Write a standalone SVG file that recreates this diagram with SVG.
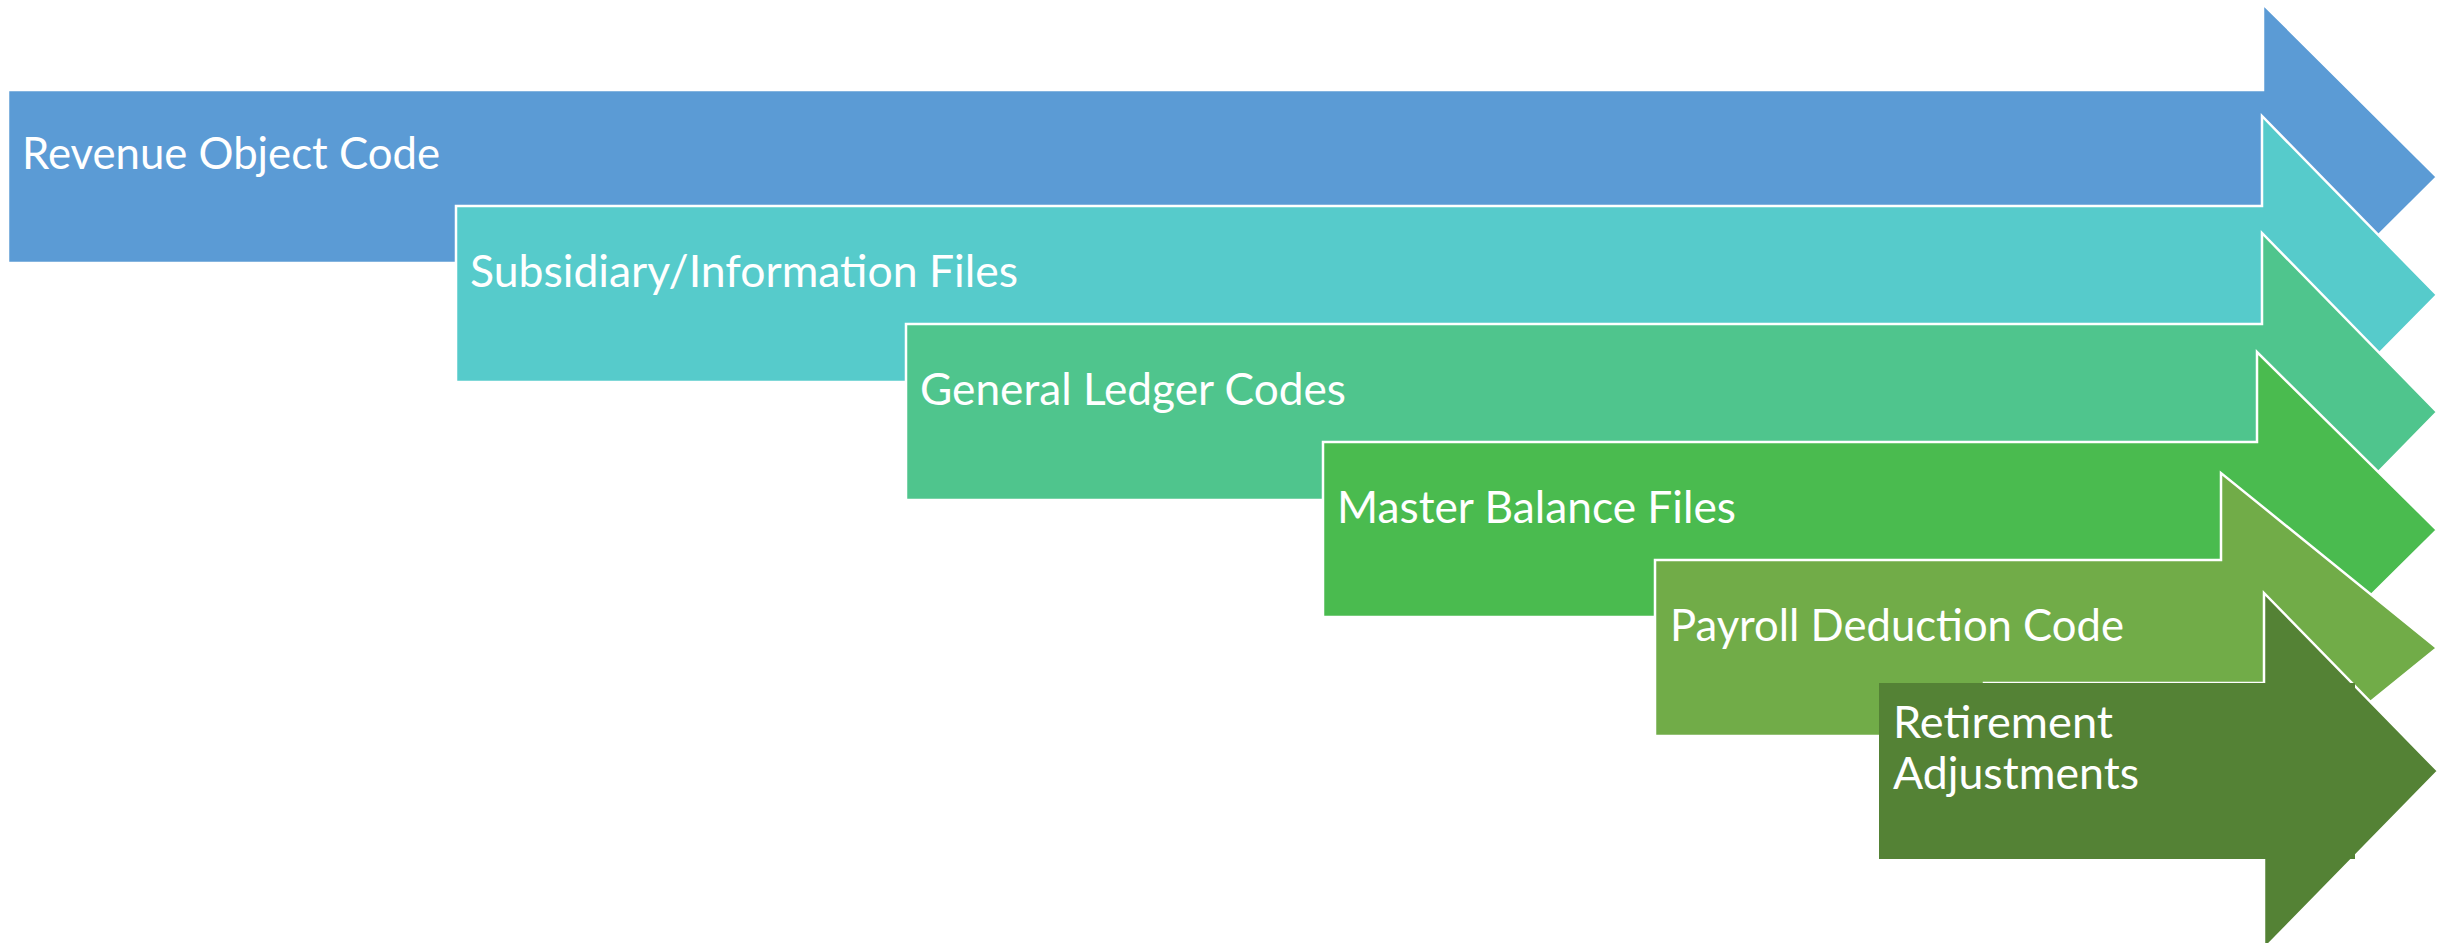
<svg xmlns="http://www.w3.org/2000/svg" width="2443" height="943" viewBox="0 0 2443 943">
  <style>
    .arrow { stroke: #FFFFFF; stroke-width: 2.5; stroke-linejoin: miter; }
    .label { font-family: Lato, "Open Sans", "Liberation Sans", sans-serif; font-size: 44px; fill: #FFFFFF; }
  </style>
  <rect width="2443" height="943" fill="#FFFFFF"/>

  <g id="revenue-object-code">
    <path class="arrow" fill="#5B9BD5" d="M8,90 H2263 V4 L2437,177 L2263,350 V263 H8 Z"/>
    <text class="label" x="22" y="169" textLength="418" lengthAdjust="spacingAndGlyphs">Revenue Object Code</text>
  </g>

  <g id="subsidiary-information-files">
    <path class="arrow" fill="#56CBCB" d="M456,206 H2262 V116 L2437,295 L2262,472 V382 H456 Z"/>
    <text class="label" x="470" y="287" textLength="548" lengthAdjust="spacingAndGlyphs">Subsidiary/Information Files</text>
  </g>

  <g id="general-ledger-codes">
    <path class="arrow" fill="#4FC58D" d="M906,324 H2262 V233 L2437,412 L2262,591 V500 H906 Z"/>
    <text class="label" x="920" y="405" textLength="426" lengthAdjust="spacingAndGlyphs">General Ledger Codes</text>
  </g>

  <g id="master-balance-files">
    <path class="arrow" fill="#4ABB4F" d="M1323,442 H2257 V352 L2437,530 L2257,708 V617 H1323 Z"/>
    <text class="label" x="1337" y="523" textLength="399" lengthAdjust="spacingAndGlyphs">Master Balance Files</text>
  </g>

  <g id="payroll-deduction-code">
    <path class="arrow" fill="#71AC48" d="M1655,560 H2221 V473 L2437,648 L2221,823 V736 H1655 Z"/>
    <text class="label" x="1670" y="641" textLength="454" lengthAdjust="spacingAndGlyphs">Payroll Deduction Code</text>
  </g>

  <g id="retirement-adjustments">
    <path class="arrow" fill="#548235" d="M1984,683 H2264 V593 L2438,771 L2264,949 V859 H1984 Z"/>
    <rect x="1879" y="683" width="476" height="176" fill="#548235"/>
    <text class="label" x="1893" y="738" textLength="220" lengthAdjust="spacingAndGlyphs">Retirement</text>
    <text class="label" x="1893" y="789" textLength="246" lengthAdjust="spacingAndGlyphs">Adjustments</text>
  </g>

  <g id="connectors"/>
</svg>
